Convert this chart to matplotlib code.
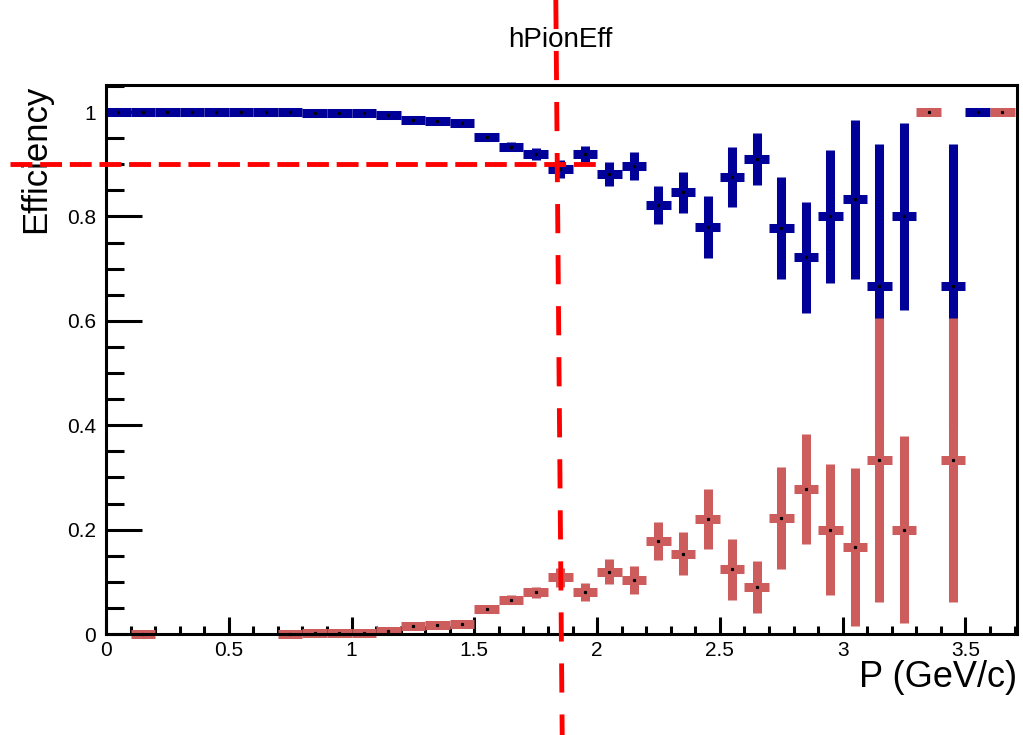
import numpy as np
import matplotlib
matplotlib.use("Agg")
from matplotlib import pyplot as plt

plt.rcParams['font.family'] = ['Liberation Sans', 'DejaVu Sans']

# pion efficiency (blue)
pi_x = [0.05, 0.15, 0.25, 0.35, 0.45, 0.55, 0.65, 0.75, 0.85, 0.95,
        1.05, 1.15, 1.25, 1.35, 1.45, 1.55, 1.65, 1.75, 1.85, 1.95,
        2.05, 2.15, 2.25, 2.35, 2.45, 2.55, 2.65, 2.75, 2.85, 2.95,
        3.05, 3.15, 3.25, 3.45, 3.55]
pi_eff = [1.0, 1.0, 1.0, 1.0, 1.0, 1.0, 1.0, 1.0, 0.999, 0.999,
          0.998, 0.994, 0.984, 0.982, 0.980, 0.952, 0.934, 0.920, 0.891, 0.920,
          0.881, 0.896, 0.822, 0.846, 0.780, 0.876, 0.910, 0.778, 0.722, 0.800,
          0.833, 0.667, 0.800, 0.667, 1.0]
pi_err = [0, 0, 0, 0, 0, 0, 0, 0, 0.001, 0.001,
          0.002, 0.003, 0.004, 0.005, 0.006, 0.008, 0.009, 0.011, 0.017, 0.016,
          0.023, 0.027, 0.037, 0.040, 0.059, 0.058, 0.050, 0.098, 0.106, 0.127,
          0.152, 0.272, 0.179, 0.272, 0]

# misid (red)
mis_x = [0.15, 0.75, 0.85, 0.95, 1.05, 1.15, 1.25, 1.35, 1.45, 1.55,
         1.65, 1.75, 1.85, 1.95, 2.05, 2.15, 2.25, 2.35, 2.45, 2.55,
         2.65, 2.75, 2.85, 2.95, 3.05, 3.15, 3.25, 3.35, 3.45, 3.65]
mis_eff = [0.0, 0.0, 0.001, 0.001, 0.002, 0.006, 0.016, 0.018, 0.020, 0.048,
           0.066, 0.080, 0.109, 0.080, 0.119, 0.104, 0.178, 0.154, 0.220, 0.124,
           0.090, 0.222, 0.278, 0.200, 0.167, 0.333, 0.200, 1.0, 0.333, 1.0]
mis_err = [0, 0, 0.001, 0.001, 0.002, 0.003, 0.004, 0.005, 0.006, 0.008,
           0.009, 0.011, 0.018, 0.017, 0.024, 0.027, 0.037, 0.041, 0.058, 0.059,
           0.050, 0.098, 0.105, 0.126, 0.152, 0.272, 0.179, 0, 0.272, 0]

bin_half = 0.05
cut_p = 1.84
cut_eff = 0.9

fig = plt.figure(figsize=(10.23, 7.35), dpi=100)
ax = fig.add_axes([0.1036, 0.1374, 0.8905, 0.747])

for x, y, e, c in [(pi_x, pi_eff, pi_err, '#000099'),
                   (mis_x, mis_eff, mis_err, '#CD5C5C')]:
    cont = ax.errorbar(x, y, yerr=e, xerr=bin_half, fmt='none', ecolor=c,
                       elinewidth=6.5, capsize=0)
    for lc in cont.lines[2]:
        lc.set_clip_on(False)
    ax.plot(x, y, 's', color='black', markersize=1.3, zorder=3, clip_on=False)

ax.set_xlim(0, 3.71)
ax.set_ylim(0, 1.052)
ax.set_xticks(np.arange(0, 3.51, 0.5))
ax.set_xticklabels(['0', '0.5', '1', '1.5', '2', '2.5', '3', '3.5'])
ax.set_xticks(np.arange(0, 3.71, 0.1), minor=True)
ax.set_yticks(np.arange(0, 1.01, 0.2))
ax.set_yticklabels(['0', '0.2', '0.4', '0.6', '0.8', '1'])
ax.set_yticks(np.arange(0, 1.051, 0.05), minor=True)
ax.tick_params(axis='both', which='both', direction='in', width=2.2,
               labelsize=15, top=False, right=False)
ax.tick_params(axis='x', which='major', length=12, pad=5)
ax.tick_params(axis='x', which='minor', length=6)
ax.tick_params(axis='y', which='major', length=26, pad=7)
ax.tick_params(axis='y', which='minor', length=13)
for s in ax.spines.values():
    s.set_linewidth(2.2)
    s.set_zorder(2.5)

ax.set_xlabel('P (GeV/c)', fontsize=26, loc='right', labelpad=0)
ax.set_ylabel('Efficiency', fontsize=25, loc='top', labelpad=11)

# cut lines
ax.plot([-0.39, 2.0], [cut_eff, cut_eff], color='red', lw=3.5,
        dashes=(4.5, 1.6), clip_on=False, zorder=5)
ax.plot([cut_p - 0.008, cut_p + 0.018], [1.215, -0.195], color='red', lw=3.5,
        dashes=(6, 4.5), clip_on=False, zorder=5)

fig.text(560 / 1023, 1 - 40 / 735, 'hPionEff', fontsize=20,
         ha='center', va='center')

fig.savefig('out.png', dpi=100)
